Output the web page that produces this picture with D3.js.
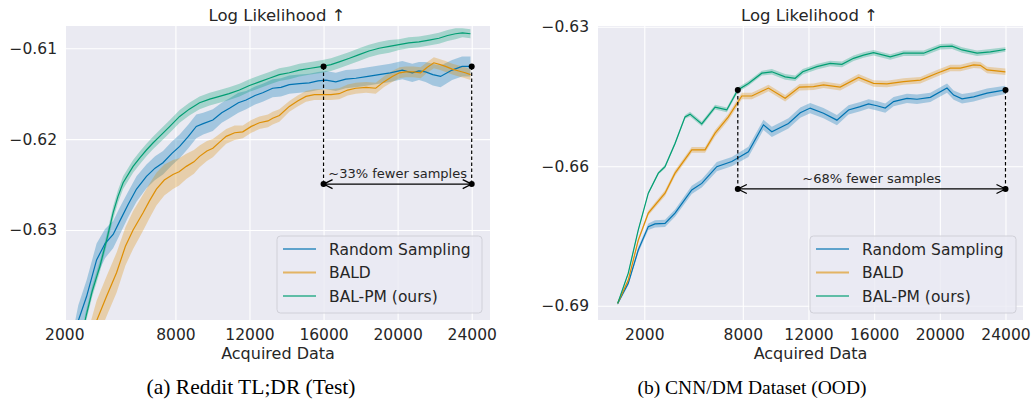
<!DOCTYPE html>
<html>
<head>
<meta charset="utf-8">
<script src="https://cdn.jsdelivr.net/npm/d3@7"></script>
<style>
  body { margin: 0; background: #fff; }
  text { font-family: "DejaVu Sans", sans-serif; fill: #262626; }
</style>
</head>
<body>
<svg id="chart" width="1033" height="400"></svg>
<script>
// series names / colours (seaborn colorblind)
const seriesNames = ["Random Sampling", "BALD", "BAL-PM (ours)"];
const seriesColors = ["#0173b2", "#de8f05", "#029e73"];

const xTicks = [2000, 8000, 12000, 16000, 20000, 24000];
const redditYTicks = [-0.61, -0.62, -0.63];
const cnnYTicks = [-0.63, -0.66, -0.69];

// [acquired data, mean log likelihood, band half-width]
const redditRandom = [
  [2500, -0.6425, 0.0016], [2755, -0.6400, 0.0017], [3206, -0.6373, 0.0018], [3744, -0.6333, 0.0018],
  [4200, -0.6315, 0.0016], [4638, -0.6305, 0.0015], [5000, -0.6290, 0.0015], [5446, -0.6272, 0.0014],
  [5900, -0.6255, 0.0014], [6436, -0.6241, 0.0013], [6900, -0.6232, 0.0013], [7330, -0.6226, 0.0013],
  [7800, -0.6216, 0.0013], [8229, -0.6208, 0.0013], [8700, -0.6197, 0.0013], [9128, -0.6186, 0.0013],
  [9500, -0.6183, 0.0012], [10022, -0.6179, 0.0012], [10500, -0.6171, 0.0011], [10921, -0.6166, 0.0011],
  [11400, -0.6160, 0.0011], [11819, -0.6157, 0.0010], [12300, -0.6152, 0.0010], [12713, -0.6149, 0.0010],
  [13252, -0.6144, 0.0010], [13700, -0.6143, 0.0010], [14151, -0.6140, 0.0010], [14700, -0.6139, 0.0010],
  [15228, -0.6138, 0.0010], [15700, -0.6136, 0.0010], [16125, -0.6135, 0.0010], [16663, -0.6137, 0.0010],
  [17200, -0.6134, 0.0010], [17742, -0.6133, 0.0010], [18400, -0.6131, 0.0010], [18997, -0.6129, 0.0010],
  [19600, -0.6127, 0.0010], [20253, -0.6124, 0.0010], [20791, -0.6127, 0.0010], [21150, -0.6125, 0.0010],
  [21509, -0.6126, 0.0011], [21900, -0.6129, 0.0012], [22317, -0.6131, 0.0012], [22942, -0.6124, 0.0011],
  [23480, -0.6120, 0.0011], [23933, -0.6120, 0.0011]
];
const redditBald = [
  [3400, -0.6425, 0.0022], [3744, -0.6400, 0.0022], [4283, -0.6373, 0.0022], [4821, -0.6347, 0.0022],
  [5300, -0.6318, 0.0021], [5715, -0.6300, 0.0021], [6253, -0.6281, 0.0020], [6600, -0.6268, 0.0019],
  [6974, -0.6255, 0.0018], [7400, -0.6245, 0.0017], [7868, -0.6239, 0.0016], [8200, -0.6236, 0.0015],
  [8589, -0.6230, 0.0014], [9000, -0.6225, 0.0013], [9305, -0.6219, 0.0012], [9700, -0.6213, 0.0011],
  [10022, -0.6210, 0.0010], [10400, -0.6203, 0.0009], [10743, -0.6197, 0.0008], [11200, -0.6193, 0.0008],
  [11637, -0.6192, 0.0007], [12100, -0.6186, 0.0007], [12536, -0.6182, 0.0007], [13000, -0.6180, 0.0007],
  [13252, -0.6177, 0.0007], [13613, -0.6174, 0.0007], [14151, -0.6164, 0.0006], [14600, -0.6158, 0.0006],
  [15050, -0.6153, 0.0006], [15500, -0.6151, 0.0006], [15944, -0.6151, 0.0006], [16400, -0.6151, 0.0006],
  [16845, -0.6150, 0.0006], [17300, -0.6146, 0.0006], [17742, -0.6144, 0.0006], [18300, -0.6143, 0.0006],
  [18818, -0.6144, 0.0006], [19250, -0.6137, 0.0006], [19712, -0.6131, 0.0006], [20100, -0.6127, 0.0006],
  [20433, -0.6126, 0.0006], [20850, -0.6126, 0.0006], [21241, -0.6127, 0.0006], [21600, -0.6121, 0.0006],
  [21957, -0.6116, 0.0006], [22300, -0.6118, 0.0006], [22587, -0.6120, 0.0006], [22950, -0.6123, 0.0006],
  [23303, -0.6125, 0.0006], [23650, -0.6127, 0.0006], [23933, -0.6129, 0.0006]
];
const redditBalpm = [
  [2900, -0.6425, 0.0006], [3114, -0.6400, 0.0006], [3500, -0.6368, 0.0006], [3922, -0.6340, 0.0006],
  [4300, -0.6310, 0.0006], [4638, -0.6281, 0.0007], [4900, -0.6263, 0.0007], [5176, -0.6248, 0.0007],
  [5715, -0.6230, 0.0007], [6100, -0.6220, 0.0007], [6436, -0.6212, 0.0007], [6800, -0.6204, 0.0007],
  [7152, -0.6197, 0.0007], [7700, -0.6186, 0.0007], [8229, -0.6175, 0.0007], [8750, -0.6167, 0.0007],
  [9305, -0.6160, 0.0007], [9850, -0.6156, 0.0007], [10382, -0.6153, 0.0007], [10900, -0.6150, 0.0007],
  [11459, -0.6146, 0.0007], [12000, -0.6141, 0.0007], [12536, -0.6137, 0.0007], [13075, -0.6133, 0.0007],
  [13613, -0.6129, 0.0007], [14150, -0.6127, 0.0007], [14690, -0.6124, 0.0007], [15300, -0.6122, 0.0007],
  [15944, -0.6120, 0.0007], [16400, -0.6118, 0.0007], [16845, -0.6115, 0.0007], [17400, -0.6111, 0.0007],
  [17920, -0.6107, 0.0007], [18450, -0.6103, 0.0007], [18997, -0.6100, 0.0007], [19550, -0.6098, 0.0007],
  [20075, -0.6096, 0.0006], [20600, -0.6094, 0.0006], [21152, -0.6093, 0.0006], [21700, -0.6091, 0.0006],
  [22229, -0.6089, 0.0006], [22700, -0.6086, 0.0006], [23126, -0.6084, 0.0006], [23500, -0.6083, 0.0005],
  [23933, -0.6084, 0.0005]
];

const cnnRandom = [
  [380, -0.6895, 0.0003], [1024, -0.6852, 0.0004], [1634, -0.6780, 0.0006], [2244, -0.6730, 0.0007],
  [2652, -0.6724, 0.0008], [3262, -0.6723, 0.0008], [3872, -0.6701, 0.0008], [4890, -0.6651, 0.0009],
  [5500, -0.6637, 0.0009], [6415, -0.6601, 0.0010], [7330, -0.6590, 0.0010], [8341, -0.6569, 0.0011],
  [9256, -0.6511, 0.0011], [9768, -0.6526, 0.0011], [10780, -0.6508, 0.0011], [11500, -0.6485, 0.0011],
  [12104, -0.6475, 0.0011], [12915, -0.6486, 0.0011], [13732, -0.6501, 0.0011], [14439, -0.6479, 0.0010],
  [15152, -0.6472, 0.0010], [15659, -0.6466, 0.0010], [16166, -0.6470, 0.0010], [16677, -0.6475, 0.0010],
  [17183, -0.6461, 0.0010], [18000, -0.6454, 0.0010], [18610, -0.6456, 0.0010], [19421, -0.6452, 0.0010],
  [20439, -0.6432, 0.0010], [20841, -0.6447, 0.0010], [21354, -0.6455, 0.0010], [22061, -0.6451, 0.0010],
  [22878, -0.6443, 0.0010], [23994, -0.6436, 0.0009]
];
const cnnBald = [
  [380, -0.6895, 0.0003], [1024, -0.6845, 0.0003], [1634, -0.6759, 0.0004], [2244, -0.6701, 0.0005],
  [3262, -0.6658, 0.0006], [3872, -0.6615, 0.0006], [4890, -0.6565, 0.0006], [5701, -0.6565, 0.0006],
  [6311, -0.6529, 0.0007], [7122, -0.6494, 0.0007], [7939, -0.6449, 0.0007], [8549, -0.6449, 0.0007],
  [9561, -0.6432, 0.0007], [10579, -0.6454, 0.0007], [11450, -0.6430, 0.0007], [12305, -0.6429, 0.0007],
  [12915, -0.6425, 0.0007], [13933, -0.6430, 0.0007], [15049, -0.6409, 0.0007], [15963, -0.6422, 0.0007],
  [16780, -0.6423, 0.0007], [17793, -0.6418, 0.0007], [18811, -0.6415, 0.0007], [19829, -0.6400, 0.0007],
  [20640, -0.6389, 0.0007], [21250, -0.6389, 0.0007], [22061, -0.6382, 0.0007], [22470, -0.6383, 0.0007],
  [22878, -0.6393, 0.0007], [23994, -0.6397, 0.0007]
];
const cnnBalpm = [
  [380, -0.6895, 0.0003], [1024, -0.6830, 0.0003], [1634, -0.6737, 0.0003], [2244, -0.6658, 0.0003],
  [2854, -0.6615, 0.0003], [3262, -0.6601, 0.0004], [3872, -0.6551, 0.0004], [4482, -0.6494, 0.0004],
  [4787, -0.6488, 0.0005], [5500, -0.6509, 0.0005], [6311, -0.6473, 0.0005], [7024, -0.6479, 0.0005],
  [7695, -0.6436, 0.0005], [8341, -0.6422, 0.0005], [9159, -0.6400, 0.0005], [9768, -0.6397, 0.0006],
  [10579, -0.6408, 0.0006], [11189, -0.6411, 0.0006], [11650, -0.6397, 0.0006], [12512, -0.6386, 0.0006],
  [13323, -0.6379, 0.0006], [14037, -0.6381, 0.0006], [14744, -0.6368, 0.0006], [15354, -0.6361, 0.0006],
  [15963, -0.6356, 0.0006], [16982, -0.6365, 0.0006], [17793, -0.6357, 0.0006], [19012, -0.6357, 0.0006],
  [20030, -0.6343, 0.0006], [20744, -0.6342, 0.0006], [21354, -0.6350, 0.0006], [22268, -0.6357, 0.0006],
  [23079, -0.6354, 0.0006], [23994, -0.6349, 0.0005]
];

// annotation: [x start, x end, y of dots, y of arrow]
const redditAnnot = [16000, 24000, -0.6120, -0.62495];
const cnnAnnot = [7695, 24000, -0.6436, -0.6649];
const redditAnnotText = "~33% fewer samples";
const cnnAnnotText = "~68% fewer samples";

const titleText = "Log Likelihood \u2191";
const xLabelText = "Acquired Data";
const captions = ["(a) Reddit TL;DR (Test)", "(b) CNN/DM Dataset (OOD)"];

const svg = d3.select("#chart");

const panels = [
  { id: "a", left: 66, right: 490, xDomain: [2092, 24988], yDomain: [-0.63991, -0.60755],
    yTicks: redditYTicks, series: [redditRandom, redditBald, redditBalpm],
    annot: redditAnnot, annotText: redditAnnotText, caption: captions[0], capX: 251, capSize: 21.5,
    legend: { x: 277, w: 205 } },
  { id: "b", left: 598, right: 1023, xDomain: [-820, 25066], yDomain: [-0.69308, -0.62985],
    yTicks: cnnYTicks, series: [cnnRandom, cnnBald, cnnBalpm],
    annot: cnnAnnot, annotText: cnnAnnotText, caption: captions[1], capX: 752, capSize: 19.5,
    legend: { x: 810, w: 206 } }
];

const plotTop = 26, plotBottom = 320;

panels.forEach(drawPanel);

function drawPanel(p) {
  var x = d3.scaleLinear().domain(p.xDomain).range([p.left, p.right]);
  var y = d3.scaleLinear().domain(p.yDomain).range([plotBottom, plotTop]);
  var g = svg.append("g");

  g.append("rect")
    .attr("x", p.left).attr("y", plotTop)
    .attr("width", p.right - p.left).attr("height", plotBottom - plotTop)
    .attr("fill", "#eaeaf2");

  g.append("clipPath").attr("id", "clip-" + p.id)
    .append("rect")
    .attr("x", p.left).attr("y", plotTop)
    .attr("width", p.right - p.left).attr("height", plotBottom - plotTop);

  // grid lines via axes
  var xAxis = g.append("g")
    .attr("transform", "translate(0," + plotBottom + ")")
    .call(d3.axisBottom(x).tickValues(xTicks).tickSize(-(plotBottom - plotTop)).tickPadding(9).tickFormat(d3.format("d")));
  var yAxis = g.append("g")
    .attr("transform", "translate(" + p.left + ",0)")
    .call(d3.axisLeft(y).tickValues(p.yTicks).tickSize(-(p.right - p.left)).tickPadding(9)
      .tickFormat(function (d) { return d3.format(".2f")(d).replace("-", "\u2212"); }));
  [xAxis, yAxis].forEach(function (a) {
    a.select(".domain").remove();
    a.selectAll(".tick line").attr("stroke", "#fff").attr("stroke-width", 1.1);
    a.selectAll(".tick text").attr("font-size", 15.5).attr("fill", "#262626")
      .style("font-family", "DejaVu Sans");
  });
  // hide grid lines outside plot (2000 tick on left panel)
  xAxis.selectAll(".tick line").attr("display", function (d) {
    return x(d) < p.left || x(d) > p.right ? "none" : null;
  });

  var plot = g.append("g").attr("clip-path", "url(#clip-" + p.id + ")");

  var area = d3.area()
    .x(function (d) { return x(d[0]); })
    .y0(function (d) { return y(d[1] - d[2]); })
    .y1(function (d) { return y(d[1] + d[2]); });
  var line = d3.line()
    .x(function (d) { return x(d[0]); })
    .y(function (d) { return y(d[1]); });

  p.series.forEach(function (s, i) {
    plot.append("path").attr("d", area(s))
      .attr("fill", seriesColors[i]).attr("fill-opacity", 0.3);
  });
  p.series.forEach(function (s, i) {
    plot.append("path").attr("d", line(s))
      .attr("fill", "none").attr("stroke", seriesColors[i]).attr("stroke-width", 1.2);
  });

  // annotation
  var a = p.annot;
  var ax0 = x(a[0]), ax1 = x(a[1]), ay = y(a[2]), arY = y(a[3]);
  [ax0, ax1].forEach(function (xx) {
    g.append("line").attr("x1", xx).attr("x2", xx).attr("y1", ay).attr("y2", arY)
      .attr("stroke", "#000").attr("stroke-width", 1.2).attr("stroke-dasharray", "3.5,2.5");
  });
  g.append("line").attr("x1", ax0).attr("x2", ax1).attr("y1", arY).attr("y2", arY)
    .attr("stroke", "#000").attr("stroke-width", 1.3);
  g.append("path")
    .attr("d", "M" + (ax0 + 9) + "," + (arY - 4.5) + "L" + ax0 + "," + arY + "L" + (ax0 + 9) + "," + (arY + 4.5) +
      "M" + (ax1 - 9) + "," + (arY - 4.5) + "L" + ax1 + "," + arY + "L" + (ax1 - 9) + "," + (arY + 4.5))
    .attr("fill", "none").attr("stroke", "#000").attr("stroke-width", 1.3);
  [[ax0, ay], [ax1, ay], [ax0, arY], [ax1, arY]].forEach(function (pt) {
    g.append("circle").attr("cx", pt[0]).attr("cy", pt[1]).attr("r", 3).attr("fill", "#000");
  });
  g.append("text").attr("x", (ax0 + ax1) / 2).attr("y", arY - 6)
    .attr("text-anchor", "middle").attr("font-size", 13).text(p.annotText);

  // legend
  var lg = g.append("g");
  lg.append("rect")
    .attr("x", p.legend.x).attr("y", 236).attr("width", p.legend.w).attr("height", 77)
    .attr("rx", 3.5).attr("fill", "#eaeaf2").attr("fill-opacity", 0.8)
    .attr("stroke", "#d0d0d8").attr("stroke-width", 1);
  seriesNames.forEach(function (name, i) {
    var ly = 249 + i * 23.5;
    lg.append("line")
      .attr("x1", p.legend.x + 6).attr("x2", p.legend.x + 39).attr("y1", ly).attr("y2", ly)
      .attr("stroke", seriesColors[i]).attr("stroke-width", 2).attr("stroke-opacity", 0.6);
    lg.append("text").attr("x", p.legend.x + 52).attr("y", ly + 5.5)
      .attr("font-size", 15.5).text(name);
  });

  // titles
  var cx = (p.left + p.right) / 2;
  g.append("text").attr("x", cx - 1).attr("y", 21).attr("text-anchor", "middle")
    .attr("font-size", 16.5).text(titleText);
  g.append("text").attr("x", cx).attr("y", 359).attr("text-anchor", "middle")
    .attr("font-size", 16).text(xLabelText);
  g.append("text").attr("x", p.capX).attr("y", 394).attr("text-anchor", "middle")
    .attr("font-size", p.capSize)
    .style("font-family", "'Liberation Serif', 'Times New Roman', serif")
    .style("fill", "#000").text(p.caption);
}
</script>
</body>
</html>
